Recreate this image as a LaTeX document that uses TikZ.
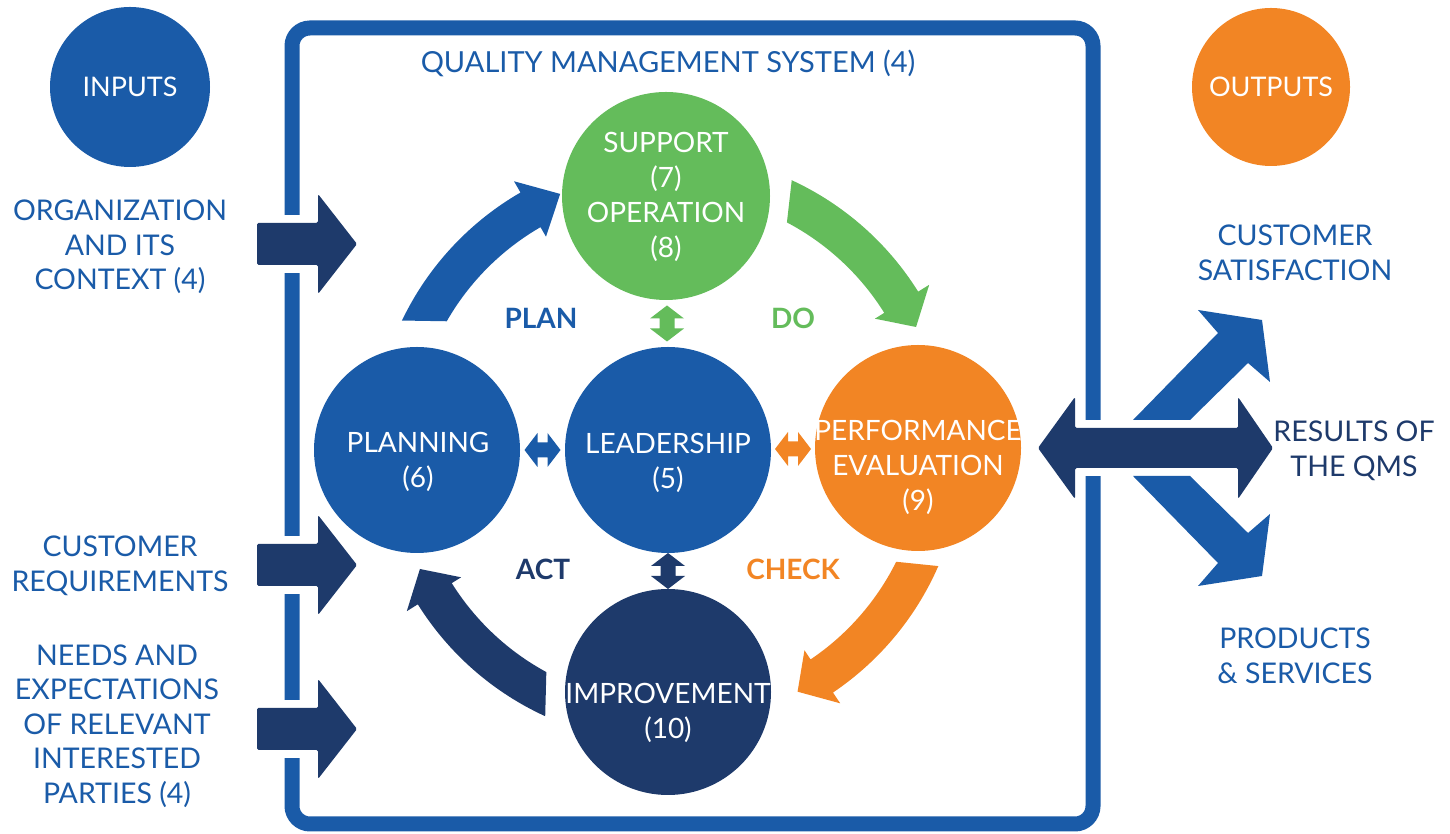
\documentclass[tikz,border=0pt]{standalone}
\usepackage{fontspec}
\setmainfont{Lato}
\usetikzlibrary{calc}
\definecolor{qblue}{HTML}{1A5BA8}
\definecolor{qnavy}{HTML}{1E3A6B}
\definecolor{qgreen}{HTML}{64BC5B}
\definecolor{qorange}{HTML}{F28524}
% colour, outer start angle, inner start angle, head base angle, tip angle
\newcommand\qarc[5]{%
  \fill[#1] ([shift={(#2:295)}]C) arc[start angle=#2, end angle=#4, radius=295]
    -- ([shift={(#4:308)}]C) -- ([shift={(#5:276)}]C) -- ([shift={(#4:244)}]C)
    -- ([shift={(#4:255)}]C) arc[start angle=#4, end angle=#3, radius=255] -- cycle;}
\newcommand\qdbl[3]{%
  \fill[#3, shift={(#1)}, rotate=#2] (-18,0) -- (-5,17) -- (-5,7.5) -- (5,7.5) -- (5,17)
    -- (18,0) -- (5,-17) -- (5,-7.5) -- (-5,-7.5) -- (-5,-17) -- cycle;}
\newcommand\qin[1]{%
  \fill[white] (278,834-#1-29) rectangle (308,834-#1+29);
  \fill[qnavy, rounded corners=1.5] (257,834-#1-21) -- (318,834-#1-21) -- (318,834-#1-50)
    -- (357,834-#1) -- (318,834-#1+50) -- (318,834-#1+21) -- (257,834-#1+21) -- cycle;}
\begin{document}
\begin{tikzpicture}[x=1pt,y=1pt,
  circ/.style={circle, inner sep=0pt, minimum size=#1},
  ctext/.style={text=white, align=center, font=\fontsize{28}{35}\selectfont},
  lbl/.style={text=qblue, align=center, font=\fontsize{28.5}{34.5}\selectfont},
  pdca/.style={font=\fontsize{28}{30}\selectfont\bfseries}]
\useasboundingbox (0,0) rectangle (1450,834);
% frame
\draw[qblue, line width=15, rounded corners=18] (292,834-28) rectangle (1093,834-824);
% input arrows
\qin{244}
\qin{565}
\qin{729}
% circles
\node[circ=160, fill=qblue] (inputs) at (130,834-87) {};
\node[circ=158, fill=qorange] (outputs) at (1271,834-87) {};
\node[circ=208, fill=qgreen] (sup) at (666,834-196) {};
\node[circ=206, fill=qblue] (plan) at (417,834-450) {};
\node[circ=206, fill=qblue] (lead) at (668,834-450) {};
\node[circ=206, fill=qorange] (perf) at (918,834-448) {};
\node[circ=206, fill=qnavy] (imp) at (668,834-692) {};
% curved PDCA arrows
\coordinate (C) at (668,834-448);
\qarc{qblue}{154.4}{150.2}{120}{113}
\qarc{qgreen}{65.2}{62.2}{32}{26}
\qarc{qorange}{-23.6}{-26.5}{-56}{-62}
\qarc{qnavy}{245.4}{241.5}{212}{206}
% small double arrows
\qdbl{$(sup.south)!0.5!(lead.north)$}{90}{qgreen}
\qdbl{$(lead.south)!0.5!(imp.north)$}{90}{qnavy}
\qdbl{$(plan.east)!0.5!(lead.west)$}{0}{qblue}
\qdbl{$(lead.east)!0.5!(perf.west)$}{0}{qorange}
% output arrows
\fill[white] (1078,834-420) rectangle (1108,834-476);
\fill[qblue] (1133,834-420) -- (1218,834-333) -- (1198,834-310) -- (1262,834-320)
  -- (1270,834-382) -- (1248,834-363) -- (1190,834-420) -- cycle;
\fill[qblue] (1133,834-476) -- (1218,834-563) -- (1198,834-586) -- (1262,834-576)
  -- (1270,834-514) -- (1248,834-533) -- (1190,834-476) -- cycle;
\fill[qnavy, rounded corners=1.5] (1038,834-448) -- (1075,834-397) -- (1075,834-428) -- (1238,834-428)
  -- (1238,834-397) -- (1273,834-448) -- (1238,834-499) -- (1238,834-468) -- (1075,834-468)
  -- (1075,834-499) -- cycle;
% texts
\node[text=qblue, font=\fontsize{29}{34}\selectfont] (title) at (668,834-63) {QUALITY MANAGEMENT SYSTEM (4)};
\node[ctext, font=\fontsize{27}{34}\selectfont] (tin) at (inputs) {INPUTS};
\node[ctext, font=\fontsize{27}{34}\selectfont] (tout) at (outputs) {OUTPUTS};
\node[ctext] (tsup) at (666,834-197) {SUPPORT\\(7)\\OPERATION\\(8)};
\node[ctext] (tplan) at (418,834-462) {PLANNING\\(6)};
\node[ctext] (tlead) at (668,834-463) {LEADERSHIP\\(5)};
\node[ctext] (tperf) at (918,834-467) {PERFORMANCE\\EVALUATION\\(9)};
\node[ctext] (timp) at (668,834-713) {IMPROVEMENT\\(10)};
\node[lbl] (l1) at (120,834-247) {ORGANIZATION\\AND ITS\\CONTEXT (4)};
\node[lbl] (l2) at (120,834-566) {CUSTOMER\\REQUIREMENTS};
\node[lbl] (l3) at (117,834-726) {NEEDS AND\\EXPECTATIONS\\OF RELEVANT\\INTERESTED\\PARTIES (4)};
\node[lbl] (r1) at (1295,834-253) {CUSTOMER\\SATISFACTION};
\node[lbl, text=qnavy] (r2) at (1354,834-451) {RESULTS OF\\THE QMS};
\node[lbl] (r3) at (1295,834-656) {PRODUCTS\\\& SERVICES};
\node[pdca, text=qblue] (pl) at (541,834-318) {PLAN};
\node[pdca, text=qgreen] (do) at (793,834-318) {DO};
\node[pdca, text=qnavy] (act) at (543,834-569) {ACT};
\node[pdca, text=qorange] (chk) at (793,834-569) {CHECK};
\end{tikzpicture}
\end{document}
